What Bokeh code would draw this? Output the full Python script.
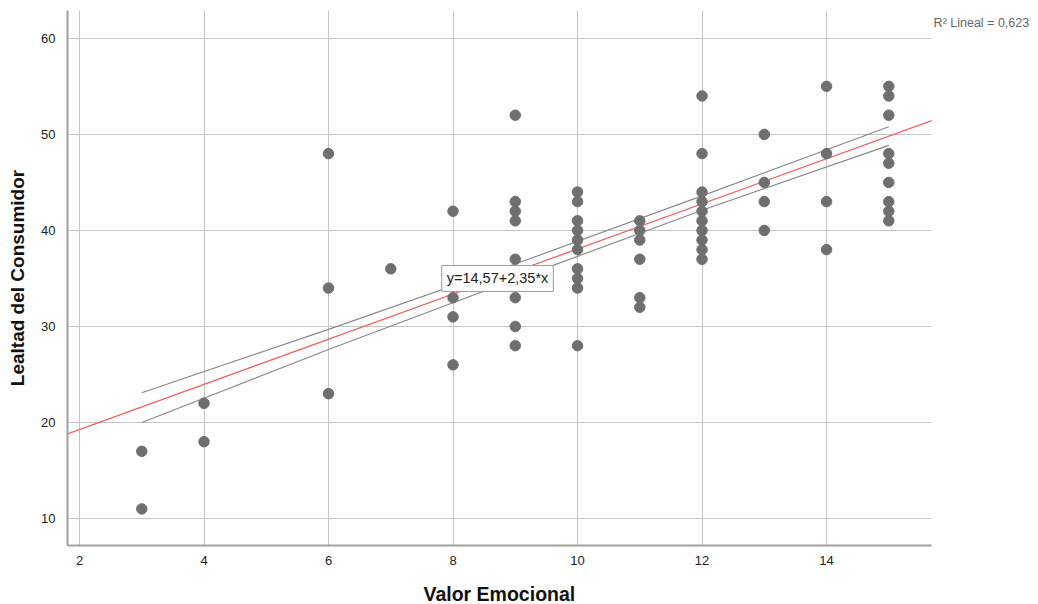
import numpy as np
from bokeh.plotting import figure
from bokeh.models import Label, Range1d, FixedTicker, ColumnDataSource, Title
from bokeh.embed import file_html
from bokeh.resources import INLINE

# ---- data ----
valor_emocional = (
    [3, 3]
    + [4, 4]
    + [6, 6, 6]
    + [7]
    + [8, 8, 8, 8]
    + [9] * 8
    + [10] * 10
    + [11] * 6
    + [12] * 10
    + [13] * 4
    + [14] * 4
    + [15] * 9
)
lealtad = (
    [17, 11]
    + [22, 18]
    + [48, 34, 23]
    + [36]
    + [42, 33, 31, 26]
    + [52, 43, 42, 41, 37, 33, 30, 28]
    + [44, 43, 41, 40, 39, 38, 36, 35, 34, 28]
    + [41, 40, 39, 37, 33, 32]
    + [54, 48, 44, 43, 42, 41, 40, 39, 38, 37]
    + [50, 45, 43, 40]
    + [55, 48, 43, 38]
    + [55, 54, 52, 48, 47, 45, 43, 42, 41]
)
intercept = 14.57
slope = 2.35
# 95% confidence band of the mean
ci_x = [3, 6, 9, 12, 15]
ci_upper = [23.1, 29.7, 36.5, 43.6, 50.8]
ci_lower = [20.0, 27.6, 34.9, 42.1, 48.85]
eq_text = "y=14,57+2,35*x"
r2_text = "R\u00b2 Lineal = 0,623"
x_title = "Valor Emocional"
y_title = "Lealtad del Consumidor"
x_ticks = [2, 4, 6, 8, 10, 12, 14]
y_ticks = [10, 20, 30, 40, 50, 60]
x_lo, x_axis_hi = 1.807, 15.69      # visible axis extent
x_view_hi = 17.405                   # frame extends into the right margin (for the R2 note)
y_lo, y_hi = 7.19, 62.9

FONT = "Liberation Sans"

p = figure(
    width=1038, height=604,
    x_range=Range1d(x_lo, x_view_hi), y_range=Range1d(y_lo, y_hi),
    output_backend="svg", toolbar_location=None,
    min_border_left=67, min_border_right=0, min_border_top=10, min_border_bottom=59,
    background_fill_color="white", border_fill_color="white",
)
p.outline_line_color = None

for ax, ticks in ((p.xaxis, x_ticks), (p.yaxis, y_ticks)):
    ax.ticker = FixedTicker(ticks=ticks)
    ax.major_tick_out = 0
    ax.major_tick_in = 0
    ax.minor_tick_out = 0
    ax.minor_tick_in = 0
    ax.axis_line_color = "#a0a0a0"
    ax.axis_line_width = 2
    ax.major_label_text_font = FONT
    ax.major_label_text_font_size = "13px"
    ax.major_label_text_color = "#222222"
    ax.axis_label_text_font = FONT
    ax.axis_label_text_font_size = "19px"
    ax.axis_label_text_font_style = "bold"
    ax.axis_label_text_color = "#111111"

p.xaxis.bounds = (x_lo, x_axis_hi)
p.yaxis.axis_label = y_title
p.xaxis.major_label_standoff = 10
p.yaxis.major_label_standoff = 12
p.yaxis.axis_label_standoff = 10

# spacer, then the x-axis title centred under the visible axis (not the extended frame)
p.add_layout(Title(text=" ", standoff=0, text_font=FONT, text_font_size="10px"), "below")
p.add_layout(Title(
    text=x_title, align="left", offset=356, standoff=0, vertical_align="bottom",
    text_font=FONT, text_font_size="19.5px", text_font_style="bold", text_color="#111111",
), "below")

p.xgrid.grid_line_color = "#c4c4c4"
p.ygrid.grid_line_color = "#c4c4c4"
p.xgrid.grid_line_width = 1
p.ygrid.grid_line_width = 1
p.ygrid.cross_bounds = (x_lo, x_axis_hi)

# confidence band lines
p.line(ci_x, ci_upper, line_color="#8a8a8a", line_width=1.2)
p.line(ci_x, ci_lower, line_color="#8a8a8a", line_width=1.2)

# regression line across the plot area
xl = np.array([x_lo, x_axis_hi])
p.line(xl, intercept + slope * xl, line_color="#f06464", line_width=1.3)

# points
src = ColumnDataSource(dict(x=valor_emocional, y=lealtad))
p.scatter("x", "y", source=src, size=10.5, marker="circle",
          fill_color="#6f6f6f", line_color="#6f6f6f")

# equation box
p.add_layout(Label(
    x=8.715, y=35.0, text=eq_text, text_align="center", text_baseline="middle",
    text_font=FONT, text_font_size="14.5px", text_color="#222222",
    background_fill_color="white", border_line_color="#9a9a9a", padding=5,
))

# R2 note
p.add_layout(Label(
    x=15.72, y=61.6, text=r2_text, text_align="left", text_baseline="middle",
    text_font=FONT, text_font_size="12.5px", text_color="#666666",
))

open("out.html", "w").write(file_html(p, INLINE))
